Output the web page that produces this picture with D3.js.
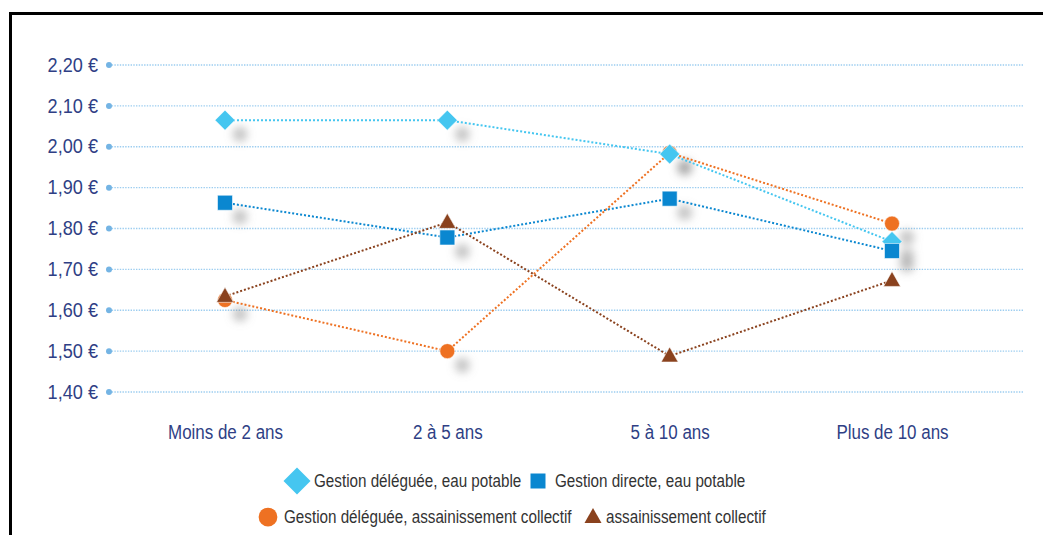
<!DOCTYPE html>
<html><head><meta charset="utf-8">
<script src="https://cdn.jsdelivr.net/npm/d3@7/dist/d3.min.js"></script>
<style>
html,body{margin:0;padding:0;background:#fff;}
svg{display:block;}
text{font-family:"Liberation Sans",Arial,sans-serif;}
</style></head>
<body><svg id="c" width="1043" height="535"></svg>
<script>
const categories = ["Moins de 2 ans", "2 à 5 ans", "5 à 10 ans", "Plus de 10 ans"];
const yTicks = [1.40, 1.50, 1.60, 1.70, 1.80, 1.90, 2.00, 2.10, 2.20];
const delegueeEau = [2.065, 2.065, 1.982, 1.768];
const directeEau = [1.863, 1.778, 1.873, 1.745];
const delegueeAss = [1.625, 1.500, 1.985, 1.812];
const assCollectif = [1.634, 1.815, 1.488, 1.673];
const seriesNames = ["Gestion déléguée, eau potable", "Gestion directe, eau potable", "Gestion déléguée, assainissement collectif", "assainissement collectif"];

const svg = d3.select("#c");
const x = d3.scalePoint().domain(categories).range([225, 892]);
const y = d3.scaleLinear().domain([1.40, 2.20]).range([392, 65]);
const SX = 0.87;

const defs = svg.append("defs");
defs.append("filter").attr("id","blur").attr("x","-100%").attr("y","-100%").attr("width","300%").attr("height","300%")
  .append("feGaussianBlur").attr("stdDeviation", 4.5);

// border
svg.append("path").attr("d","M10.5,540 L10.5,13.5 L1050,13.5").attr("fill","none").attr("stroke","#000").attr("stroke-width",3);

// grid
const grid = svg.append("g");
grid.selectAll("line").data(yTicks).join("line")
  .attr("x1",109).attr("x2",1023).attr("y1",d=>y(d)).attr("y2",d=>y(d))
  .attr("stroke","#9ccdf0").attr("stroke-width",1.4).attr("stroke-dasharray","1.4,1.3");
grid.selectAll("circle").data(yTicks).join("circle")
  .attr("cx",109).attr("cy",d=>y(d)).attr("r",3).attr("fill","#74b4e4");

// y axis
const fmt = d => d.toFixed(2).replace(".", ",") + " €";
const yAxis = svg.append("g").attr("transform","translate(109,0)")
  .call(d3.axisLeft(y).tickValues(yTicks).tickSize(0).tickPadding(12).tickFormat(fmt));
yAxis.select(".domain").remove();
yAxis.selectAll("text").attr("font-size",19.5).attr("fill","#2f3f85")
  .attr("x",0).attr("transform","translate(-11,0) scale(0.93,1)");

// x axis
const xAxis = svg.append("g").attr("transform","translate(0,392)")
  .call(d3.axisBottom(x).tickSize(0).tickPadding(33));
xAxis.select(".domain").remove();
xAxis.selectAll("text").attr("font-size",19.5).attr("fill","#2f3f85").attr("transform",`scale(${SX},1)`);

const series = [
  {name: seriesNames[0], vals: delegueeEau, color:"#45c6f0", shape:"diamond", shadow:true},
  {name: seriesNames[1], vals: directeEau, color:"#0a87d0", shape:"square", shadow:true},
  {name: seriesNames[2], vals: delegueeAss, color:"#ee7122", shape:"circle", shadow:true},
  {name: seriesNames[3], vals: assCollectif, color:"#8a421e", shape:"triangle", shadow:false}
];

// shadows
const sh = svg.append("g").attr("filter","url(#blur)");
series.filter(s=>s.shadow).forEach(s=>{
  sh.selectAll(null).data(s.vals).join("circle")
    .attr("cx",(d,i)=>x(categories[i])+15).attr("cy",d=>y(d)+14).attr("r",7.5)
    .attr("fill","#8c8c8c").attr("opacity",0.5);
});

// lines
const line = d3.line().x((d,i)=>x(categories[i])).y(d=>y(d));
series.forEach(s=>{
  svg.append("path").datum(s.vals).attr("d",line).attr("fill","none")
    .attr("stroke",s.color).attr("stroke-width",2).attr("stroke-dasharray","2,2");
});

function shapePath(shape, sizeScale){
  const k = sizeScale||1;
  if(shape==="diamond"){ const r=10*k; return `M0,${-r}L${r},0L0,${r}L${-r},0Z`; }
  if(shape==="square"){ const r=7.5*k; return `M${-r},${-r}H${r}V${r}H${-r}Z`; }
  if(shape==="circle"){ return d3.symbol(d3.symbolCircle, Math.PI*7.5*7.5*k*k)(); }
  if(shape==="triangle"){ const w=8.5*k, h=15*k; return `M0,${-h*0.6}L${w},${h*0.4}L${-w},${h*0.4}Z`; }
}

// markers (order: circle, diamond, square, triangle)
[series[2], series[0], series[1], series[3]].forEach(s=>{
  svg.append("g").selectAll("path").data(s.vals).join("path")
    .attr("transform",(d,i)=>`translate(${x(categories[i])},${y(d)})`)
    .attr("d",shapePath(s.shape)).attr("fill",s.color)
    .attr("stroke","#fff").attr("stroke-width",0.8).attr("stroke-opacity",0.7);
});

// legend
const legendRows = [
  [{s:series[0], mx:297, tx:314}, {s:series[1], mx:538, tx:555}],
  [{s:series[2], mx:268, tx:284}, {s:series[3], mx:593, tx:606}]
];
const rowY = [481, 517];
legendRows.forEach((row,ri)=>{
  row.forEach(it=>{
    const g = svg.append("g");
    const k = it.s.shape==="diamond"?1.35:(it.s.shape==="circle"?1.25:1.0);
    g.append("path").attr("transform",`translate(${it.mx},${rowY[ri]})`).attr("d",shapePath(it.s.shape,k)).attr("fill",it.s.color);
    g.append("text").attr("transform",`translate(${it.tx},${rowY[ri]}) scale(${SX},1)`).attr("dy","0.36em")
      .attr("font-size",17.5).attr("fill","#333").text(it.s.name);
  });
});
</script></body></html>
